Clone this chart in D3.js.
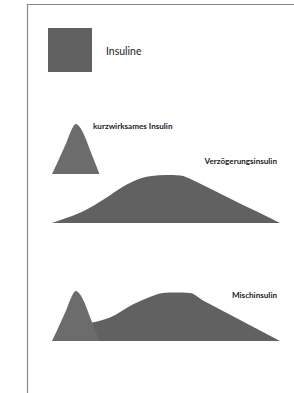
<!DOCTYPE html>
<html>
<head>
<meta charset="utf-8">
<script src="https://cdn.jsdelivr.net/npm/d3@7"></script>
<style>
  body { margin: 0; background: #fff; }
  svg { display: block; font-family: Lato, "Open Sans", sans-serif; }
</style>
</head>
<body>
<script>
// hours after injection and relative effect
const shortHours = [0, 0.5, 1, 1.5, 2, 2.5, 3, 3.5, 4, 4.5, 5];
const shortEffect = [0, 0.2, 0.41, 0.62, 0.86, 1.0, 0.92, 0.73, 0.48, 0.24, 0];

const delayedHours = [0, 1.5, 3, 4.5, 6, 7.5, 9, 10.5, 12, 13.5, 14.8, 16, 18, 20, 22, 24];
const delayedEffect = [0, 0.1, 0.21, 0.36, 0.54, 0.73, 0.87, 0.94, 0.96, 0.95, 0.86, 0.75, 0.56, 0.37, 0.19, 0];

const mixHours = [4, 6.1, 8.5, 10.3, 11.7, 13, 14.5, 16, 18, 20, 22, 24];
const mixEffect = [0.36, 0.47, 0.73, 0.88, 0.96, 0.97, 0.96, 0.8, 0.6, 0.4, 0.2, 0];

const labels = ["Insuline", "kurzwirksames Insulin", "Verzögerungsinsulin", "Mischinsulin"];

const width = 294;
const height = 393;

const svg = d3.select("body")
    .append("svg")
    .attr("width", width)
    .attr("height", height);

// frame
svg.append("path")
    .attr("d", "M27.5,393 V4.5 H294")
    .attr("fill", "none")
    .attr("stroke", "#888")
    .attr("stroke-width", 1.2);

// legend
svg.append("rect")
    .attr("x", 48)
    .attr("y", 28)
    .attr("width", 44)
    .attr("height", 44)
    .attr("fill", "#606060");

svg.append("text")
    .attr("x", 106)
    .attr("y", 55)
    .attr("font-size", 10.5)
    .attr("fill", "#222")
    .text(labels[0]);

const x = d3.scaleLinear().domain([0, 24]).range([52, 280]);

const toPoints = (hours, effect) => hours.map((h, i) => [h, effect[i]]);

function drawArea(points, baseline, color) {
    const y = d3.scaleLinear().domain([0, 1]).range([baseline, baseline - 50]);
    const area = d3.area()
        .x(d => x(d[0]))
        .y0(baseline)
        .y1(d => y(d[1]))
        .curve(d3.curveMonotoneX);
    svg.append("path")
        .datum(points)
        .attr("d", area)
        .attr("fill", color);
}

const longColor = "#616161";
const shortColor = "#6c6c6c";

// kurzwirksam
drawArea(toPoints(shortHours, shortEffect), 174, shortColor);
// verzoegerung
drawArea(toPoints(delayedHours, delayedEffect), 223, longColor);
// misch
drawArea(toPoints(mixHours, mixEffect), 341, longColor);
drawArea(toPoints(shortHours, shortEffect), 341, shortColor);

const small = [
    { text: labels[1], x: 93, y: 129, anchor: "start" },
    { text: labels[2], x: 277, y: 164, anchor: "end" },
    { text: labels[3], x: 277, y: 298, anchor: "end" }
];

svg.selectAll(".lbl")
    .data(small)
    .enter()
    .append("text")
    .attr("class", "lbl")
    .attr("x", d => d.x)
    .attr("y", d => d.y)
    .attr("text-anchor", d => d.anchor)
    .attr("font-size", 8.1)
    .attr("font-weight", "bold")
    .attr("fill", "#222")
    .text(d => d.text);
</script>
</body>
</html>
